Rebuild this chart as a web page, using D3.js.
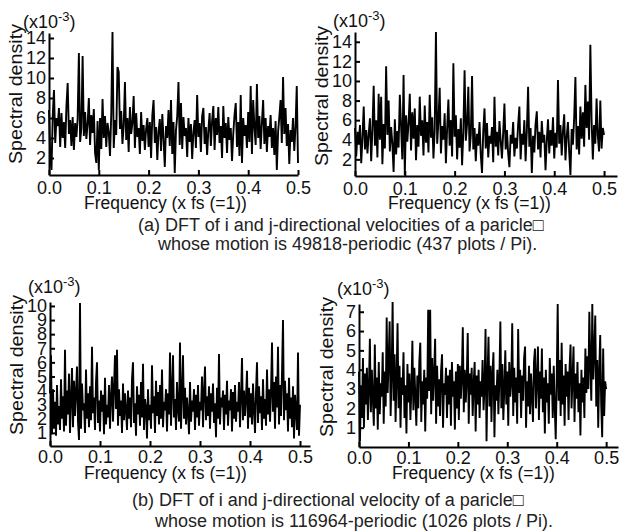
<!DOCTYPE html>
<html>
<head>
<meta charset="utf-8">
<script src="https://cdn.jsdelivr.net/npm/d3@7.9.0/dist/d3.min.js"></script>
<style>
  body { margin: 0; background: #fff; }
  svg { display: block; }
  text { font-family: "Liberation Sans", Arial, "DejaVu Sans", sans-serif; fill: #111; }
</style>
</head>
<body>
<div id="chart"></div>
<script>
// tick values / labels
const xTickValues = [0, 0.1, 0.2, 0.3, 0.4, 0.5];
const yTicksTop = [2, 4, 6, 8, 10, 12, 14];
const yTicksBottomLeft = [1, 2, 3, 4, 5, 6, 7, 8, 9, 10];
const yTicksBottomRight = [1, 2, 3, 4, 5, 6, 7];

const xTitle = "Frequency (x fs (=1))";
const yTitle = "Spectral density";
const captionA = ["(a) DFT of i and j-directional velocities of a paricle\u25A1",
                  "whose motion is 49818-periodic (437 plots / Pi)."];
const captionB = ["(b) DFT of i and j-directional velocity of a paricle\u25A1",
                  "whose motion is 116964-periodic (1026 plots / Pi)."];

// spectral density (x10^-3), evenly spaced over 0 .. 0.5
const densityA_i = [
  6.8, 2.1, 0.8, 6.2, 8.8, 3.5, 6.0, 5.2, 7.0, 3.1,
  6.5, 4.0, 5.6, 3.0, 7.2, 9.5, 4.4, 5.8, 3.2, 6.1,
  2.8, 5.5, 4.1, 5.9, 12.5, 3.6, 5.0, 12.2, 4.2, 6.6,
  3.9, 5.4, 8.0, 3.3, 6.3, 4.5, 6.9, 2.5, 1.5, 5.7,
  0.8, 6.0, 2.9, 7.9, 4.0, 6.2, 3.1, 5.5, 4.6, 2.2,
  6.4, 14.6, 3.0, 5.8, 4.3, 11.1, 10.6, 4.9, 6.7, 3.4,
  5.2, 9.6, 3.8, 6.0, 2.6, 7.1, 4.4, 5.5, 8.2, 3.0,
  6.5, 4.1, 5.0, 2.4, 6.6, 3.7, 5.3, 2.8, 4.9, 6.0,
  3.1, 5.6, 2.0, 6.3, 7.8, 3.5, 5.1, 1.8, 4.7, 5.9,
  2.7, 6.4, 3.9, 1.1, 5.2, 4.0, 6.8, 3.2, 7.8, 2.4,
  5.6, 0.5, 4.8, 6.2, 9.6, 3.3, 7.5, 2.9, 6.1, 4.2,
  5.0, 2.1, 6.0, 3.6, 5.4, 1.9, 4.6, 5.8, 3.0, 8.3,
  4.1, 5.5, 2.6, 6.2, 7.0, 3.4, 5.1, 2.3, 4.8, 6.5,
  3.2, 5.7, 7.2, 2.8, 6.0, 4.3, 7.1, 3.5, 5.2, 2.0,
  7.2, 4.0, 5.5, 2.5, 6.1, 3.8, 5.0, 1.7, 4.4, 6.3,
  7.5, 3.1, 5.6, 2.2, 8.3, 1.5, 6.0, 4.2, 5.3, 3.0,
  6.6, 3.6, 9.2, 2.4, 7.8, 5.1, 3.3, 9.4, 4.0, 6.2,
  2.9, 5.5, 7.8, 3.4, 6.0, 2.6, 5.2, 4.1, 6.3, 3.0,
  5.0, 2.3, 5.7, 0.8, 4.6, 6.1, 7.8, 3.5, 10.1, 4.4,
  7.0, 3.2, 5.4, 1.4, 4.8, 3.6, 6.0, 2.7, 5.1, 9.2,
  1.5
];
const densityA_j = [
  5.2, 2.3, 4.8, 3.5, 5.5, 1.6, 4.2, 7.4, 3.0, 5.0,
  2.6, 4.6, 6.2, 1.8, 5.1, 9.5, 3.4, 6.0, 2.2, 8.7,
  4.0, 8.4, 1.5, 5.6, 3.1, 11.5, 4.5, 8.0, 2.8, 5.3,
  3.6, 0.7, 6.1, 2.5, 4.9, 3.2, 8.6, 5.4, 2.0, 10.6,
  0.4, 6.5, 3.8, 5.7, 8.7, 2.9, 6.8, 4.1, 7.2, 1.9,
  5.5, 3.3, 8.4, 4.4, 6.0, 2.4, 7.5, 3.7, 5.8, 2.7,
  8.6, 4.2, 6.3, 2.1, 5.0, 15.0, 3.6, 5.9, 9.3, 2.6,
  5.4, 4.0, 6.7, 1.6, 5.2, 8.1, 3.4, 6.0, 2.3, 11.8,
  4.3, 6.5, 2.0, 5.1, 3.2, 6.2, 1.4, 4.8, 11.1, 3.9,
  5.6, 9.4, 2.8, 4.5, 10.5, 3.0, 5.2, 1.8, 4.6, 3.4,
  5.8, 2.5, 0.6, 4.9, 7.2, 3.1, 5.7, 2.2, 4.4, 3.6,
  5.3, 1.7, 8.4, 3.3, 4.8, 2.4, 5.9, 3.9, 2.1, 4.7,
  7.7, 3.0, 5.0, 2.6, 1.2, 4.5, 3.6, 5.8, 2.3, 4.2,
  3.1, 5.5, 7.4, 2.0, 4.6, 3.5, 6.0, 1.8, 4.9, 9.4,
  3.3, 5.2, 0.6, 4.4, 2.7, 5.6, 6.9, 3.0, 4.8, 2.2,
  5.9, 3.7, 4.5, 0.9, 3.9, 6.1, 2.6, 5.0, 3.4, 6.3,
  2.1, 4.7, 3.2, 10.1, 3.6, 5.5, 2.4, 4.9, 6.6, 1.9,
  4.3, 5.8, 2.8, 0.4, 5.1, 3.5, 6.2, 10.4, 3.0, 5.4,
  2.5, 7.4, 4.1, 6.8, 3.3, 9.6, 5.2, 7.9, 4.0, 13.7,
  6.0, 2.0, 5.5, 3.6, 8.2, 4.4, 2.8, 8.0, 3.1, 5.2,
  4.5
];
const densityB_i = [
  3.8, 6.5, 0.9, 4.1, 1.3, 3.2, 0.8, 4.4, 1.6, 2.9,
  1.2, 4.8, 2.0, 3.6, 1.1, 6.9, 1.5, 4.0, 2.3, 5.2,
  1.0, 3.4, 5.6, 1.4, 4.7, 2.2, 3.9, 5.7, 1.8, 0.5,
  10.2, 1.3, 4.5, 2.6, 3.1, 1.0, 5.5, 2.0, 3.8, 1.4,
  4.3, 1.9, 7.1, 2.4, 3.5, 1.2, 4.6, 6.0, 1.7, 3.3,
  1.1, 4.0, 2.5, 3.7, 0.9, 4.9, 1.6, 3.0, 2.1, 4.4,
  1.3, 3.6, 5.0, 1.8, 4.2, 6.5, 2.7, 6.9, 1.5, 4.1,
  2.2, 3.3, 1.0, 4.5, 1.9, 3.8, 2.6, 1.2, 4.0, 2.0,
  3.5, 1.4, 4.8, 6.0, 1.7, 3.1, 0.8, 4.3, 2.3, 3.7,
  1.5, 4.6, 2.1, 5.9, 1.2, 3.4, 2.8, 0.6, 4.1, 1.9,
  3.0, 1.3, 5.8, 2.4, 3.6, 1.0, 4.7, 2.2, 3.9, 1.6,
  4.4, 2.0, 5.5, 1.4, 3.2, 2.6, 4.1, 1.1, 3.8, 2.3,
  6.7, 1.5, 4.0, 6.5, 2.1, 3.4, 1.2, 4.6, 2.7, 1.8,
  7.4, 1.3, 3.9, 6.5, 2.0, 4.2, 1.6, 3.5, 2.4, 0.9,
  4.6, 1.8, 3.3, 2.5, 4.1, 1.2, 3.7, 2.1, 4.4, 1.5,
  3.2, 2.6, 5.0, 1.4, 3.9, 5.7, 1.9, 3.6, 2.2, 4.3,
  1.3, 3.8, 2.5, 4.5, 1.7, 3.1, 0.7, 4.2, 2.0, 6.6,
  1.6, 3.5, 2.8, 4.0, 1.2, 3.7, 2.3, 4.7, 1.5, 3.3,
  2.6, 4.1, 1.1, 3.9, 2.0, 4.4, 1.8, 3.2, 2.5, 4.6,
  1.4, 3.6, 6.3, 1.9, 4.0, 2.2, 3.5, 5.4, 1.3, 4.2,
  2.1, 3.8, 1.6, 4.5, 2.7, 1.0, 3.9, 6.0, 1.7, 4.3,
  2.4, 3.6, 1.2, 4.8, 2.0, 3.4, 1.5, 5.5, 2.3, 4.1,
  1.8, 3.9, 7.4, 2.5, 4.6, 1.3, 5.0, 2.8, 7.1, 1.6,
  4.4, 2.2, 5.2, 9.0, 1.9, 4.7, 2.6, 3.8, 1.1, 4.9,
  2.0, 3.5, 1.4, 4.3, 0.6, 3.7, 2.5, 1.2, 6.7, 0.8,
  3.0
];
const densityB_j = [
  3.9, 0.3, 3.2, 1.5, 4.6, 1.0, 3.8, 2.2, 4.1, 1.4,
  3.0, 5.6, 1.8, 4.0, 2.5, 1.1, 5.3, 2.0, 3.6, 0.9,
  4.4, 1.7, 3.3, 2.6, 4.9, 1.2, 3.9, 2.1, 6.7, 2.8,
  4.5, 6.5, 1.6, 3.7, 7.5, 2.4, 4.8, 1.3, 3.5, 6.4,
  2.0, 4.2, 1.0, 3.6, 2.7, 4.9, 1.5, 3.2, 0.7, 4.3,
  2.3, 3.8, 1.4, 3.0, 5.5, 1.9, 4.1, 2.6, 1.1, 3.7,
  2.0, 4.4, 5.4, 1.3, 3.4, 2.2, 4.0, 0.8, 3.6, 2.5,
  7.1, 2.9, 7.1, 1.7, 4.6, 2.4, 3.8, 5.6, 1.2, 4.2,
  2.1, 3.5, 1.6, 3.9, 4.8, 1.0, 3.3, 2.7, 4.1, 1.5,
  3.7, 2.2, 4.0, 1.1, 4.4, 2.6, 3.4, 0.9, 3.9, 2.0,
  4.3, 1.4, 4.2, 2.5, 3.6, 6.2, 1.8, 4.0, 2.3, 3.5,
  5.9, 1.2, 3.8, 2.7, 4.1, 1.6, 3.3, 4.4, 0.8, 3.7,
  2.2, 4.0, 1.5, 3.4, 2.6, 4.5, 1.9, 3.1, 6.1, 0.3,
  3.6, 5.7, 2.1, 4.2, 1.3, 3.8, 4.9, 0.5, 3.2, 2.4,
  4.0, 1.7, 3.5, 6.5, 2.0, 4.3, 1.4, 3.0, 5.0, 2.2,
  3.9, 1.1, 4.4, 2.6, 3.3, 6.4, 1.6, 4.1, 2.3, 3.6,
  1.2, 6.1, 2.8, 4.0, 1.5, 3.7, 2.4, 4.6, 5.2, 1.0,
  3.4, 2.1, 4.2, 1.7, 3.8, 2.6, 1.3, 4.4, 5.1, 2.0,
  3.5, 5.2, 1.4, 3.9, 2.5, 5.1, 1.8, 3.6, 0.7, 4.0,
  2.3, 3.3, 1.2, 4.6, 2.7, 3.8, 1.5, 4.2, 2.1, 0.4,
  3.4, 7.4, 2.4, 4.5, 1.6, 5.4, 2.2, 3.7, 1.1, 4.3,
  2.6, 3.9, 1.4, 4.1, 5.3, 2.0, 3.5, 5.2, 1.3, 3.8,
  2.5, 4.4, 1.8, 3.3, 0.6, 4.0, 2.3, 3.6, 1.5, 5.1,
  2.8, 4.7, 3.0, 7.0, 4.2, 2.4, 7.4, 3.5, 4.9, 6.8,
  2.1, 4.5, 1.0, 3.9, 5.8, 2.2, 0.5, 5.1, 1.6, 3.4,
  3.0
];

// layout of the four panels (pixel boxes), data hooked in by name
const panels = [
  { data: densityA_i, yTicks: yTicksTop, left: 49, right: 298, xMax: 0.5,
    bottom: 175, top: 33, yMin: 0.3, yMax: 14.5, pad: 6,
    unit: [23, 28], ylab: [22, 94], title: [84, 209] },
  { data: densityA_j, yTicks: yTicksTop, left: 355, right: 617, xMax: 0.526,
    bottom: 176, top: 32, yMin: 0.3, yMax: 15.0, pad: 6,
    unit: [333, 27], ylab: [328, 96], title: [388, 209] },
  { data: densityB_i, yTicks: yTicksBottomLeft, left: 50, right: 310, xMax: 0.52,
    bottom: 446, top: 302, yMin: 0.07, yMax: 10.28, pad: 4,
    unit: [28, 293], ylab: [23, 365], title: [84, 479] },
  { data: densityB_j, yTicks: yTicksBottomRight, left: 359, right: 618, xMax: 0.524,
    bottom: 447, top: 304, yMin: 0, yMax: 7.4, pad: 4,
    unit: [337, 295], ylab: [333, 367], title: [392, 479] }
];

const svg = d3.select("#chart").append("svg")
  .attr("width", 623)
  .attr("height", 531);

panels.forEach(p => {
  const step = 0.5 / (p.data.length - 1);

  const x = d3.scaleLinear().domain([0, p.xMax]).range([p.left, p.right]);
  const y = d3.scaleLinear().domain([p.yMin, p.yMax]).range([p.bottom, p.top]);

  // the spectrum
  const line = d3.line()
    .x((d, i) => x(i * step))
    .y(d => y(d));

  svg.append("path")
    .datum(p.data)
    .attr("d", line)
    .attr("fill", "none")
    .attr("stroke", "#000")
    .attr("stroke-width", 1.9);

  // axes, ticks pointing inward
  const gx = svg.append("g")
    .attr("transform", `translate(0,${p.bottom})`)
    .call(d3.axisBottom(x)
      .tickValues(xTickValues)
      .tickFormat(d3.format(".1f"))
      .tickSize(-5)
      .tickSizeOuter(0)
      .tickPadding(p.pad));

  const gy = svg.append("g")
    .attr("transform", `translate(${p.left},0)`)
    .call(d3.axisLeft(y)
      .tickValues(p.yTicks)
      .tickFormat(d3.format("d"))
      .tickSize(-5)
      .tickSizeOuter(0)
      .tickPadding(3));

  [gx, gy].forEach(g => {
    g.attr("font-size", 18);
    g.selectAll("path.domain, line").attr("stroke", "#000").attr("stroke-width", 2);
    g.selectAll("text").attr("fill", "#111");
  });

  // x title
  svg.append("text")
    .attr("x", p.title[0])
    .attr("y", p.title[1])
    .style("font-size", "17.5px")
    .text(xTitle);

  // y title
  svg.append("text")
    .attr("transform", `translate(${p.ylab[0]},${p.ylab[1]}) rotate(-90)`)
    .attr("text-anchor", "middle")
    .attr("textLength", 140)
    .attr("lengthAdjust", "spacingAndGlyphs")
    .style("font-size", "18px")
    .text(yTitle);

  // (x10^-3)
  const u = svg.append("text")
    .attr("x", p.unit[0])
    .attr("y", p.unit[1])
    .style("font-size", "18px");
  u.append("tspan").text("(x10");
  u.append("tspan").attr("dy", -7).style("font-size", "13px").text("-3");
  u.append("tspan").attr("dy", 7).text(")");
});

// captions
const captions = [
  { lines: captionA, x: [138, 158], y: [231, 250] },
  { lines: captionB, x: [132, 155], y: [506, 527] }
];
captions.forEach(c => {
  c.lines.forEach((t, i) => {
    svg.append("text")
      .attr("x", c.x[i])
      .attr("y", c.y[i])
      .style("font-size", "18px")
      .style("fill", "#222")
      .text(t);
  });
});
</script>
</body>
</html>
